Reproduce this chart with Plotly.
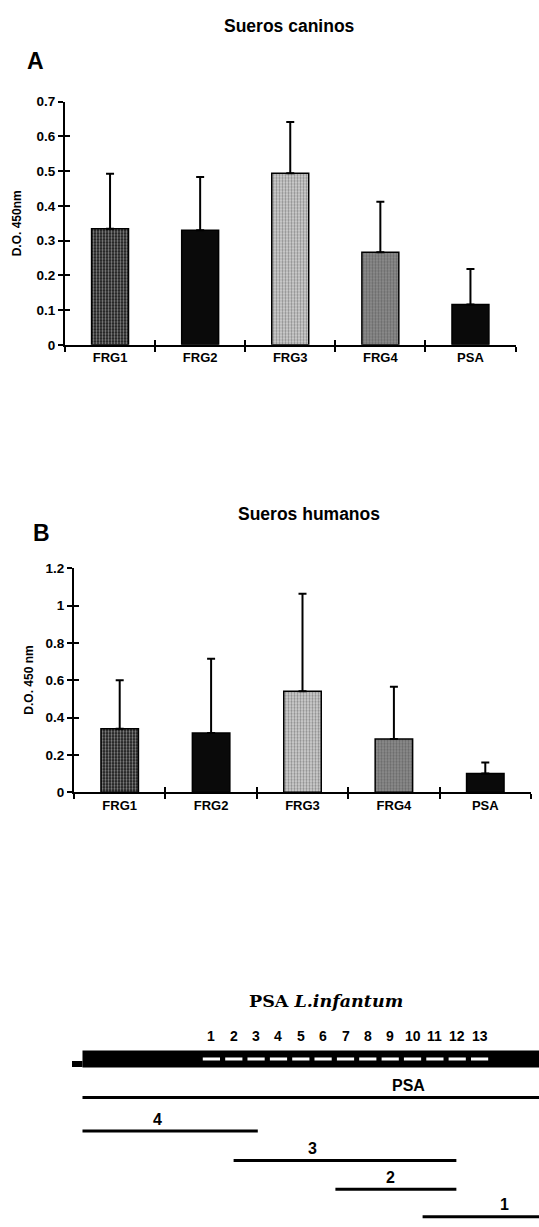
import plotly.graph_objects as go

# ---------------- data ----------------
categories = ["FRG1", "FRG2", "FRG3", "FRG4", "PSA"]
canine_mean = [0.334, 0.330, 0.494, 0.266, 0.116]
canine_err = [0.158, 0.153, 0.147, 0.146, 0.102]
human_mean = [0.340, 0.318, 0.542, 0.286, 0.100]
human_err = [0.260, 0.397, 0.522, 0.279, 0.059]
canine_ticks = [0, 0.1, 0.2, 0.3, 0.4, 0.5, 0.6, 0.7]
human_ticks = [0, 0.2, 0.4, 0.6, 0.8, 1, 1.2]

bar_colors = ["#111111", "#0a0a0a", "#d4d4d4", "#8e8e8e", "#0a0a0a"]
pattern_shapes = [".", "", ".", ".", ""]
pattern_fg = ["#2c2c2c", "#0a0a0a", "#8a8a8a", "#4e4e4e", "#0a0a0a"]
pattern_bg = ["#0c0c0c", "#0a0a0a", "#ececec", "#b4b4b4", "#0a0a0a"]

# schematic of PSA L. infantum (arbitrary length units, gene = 0..100)
gene_start, gene_end = 0, 100
signal_start, signal_end = -2.3, 0
repeat_start = [26.35, 31.26, 36.14, 41.05, 45.94, 50.82, 55.73, 60.61, 65.52, 70.41, 75.31, 80.20, 85.10]
repeat_end = [30.12, 35.03, 39.91, 44.82, 49.71, 54.59, 59.50, 64.38, 69.29, 74.18, 79.08, 83.97, 88.87]
repeat_labels = ["1", "2", "3", "4", "5", "6", "7", "8", "9", "10", "11", "12", "13"]
frag_names = ["PSA", "4", "3", "2", "1"]
frag_start = [0, 0, 33.1, 55.4, 74.5]
frag_end = [100, 38.4, 81.9, 81.9, 100]
frag_row = [1.3, 2.43, 3.43, 4.4, 5.32]
frag_label_x = [71.5, 16.5, 50.4, 67.4, 92.5]

W, H = 539, 1227
FONT = "Liberation Sans"

fig = go.Figure()

def bars(mean, err, xa, ya):
    return go.Bar(
        x=categories, y=mean, width=0.41, xaxis=xa, yaxis=ya,
        marker=dict(color=bar_colors, line=dict(color="black", width=1.5),
                    pattern=dict(shape=pattern_shapes, fgcolor=pattern_fg,
                                 bgcolor=pattern_bg, size=3, solidity=0.45)),
        error_y=dict(type="data", array=err, arrayminus=[0] * len(err),
                     symmetric=False, color="black", thickness=2, width=4),
        showlegend=False, hoverinfo="skip")

fig.add_trace(bars(canine_mean, canine_err, "x", "y"))
fig.add_trace(bars(human_mean, human_err, "x2", "y2"))
# invisible copies so the overlay axes (inner half of the crossing ticks) get drawn
idx = list(range(len(categories)))
fig.add_trace(go.Scatter(x=idx, y=canine_mean, mode="markers", marker=dict(opacity=0),
                         xaxis="x4", yaxis="y4", showlegend=False, hoverinfo="skip"))
fig.add_trace(go.Scatter(x=idx, y=human_mean, mode="markers", marker=dict(opacity=0),
                         xaxis="x5", yaxis="y5", showlegend=False, hoverinfo="skip"))

# schematic
fig.add_trace(go.Scatter(x=[signal_start, signal_end], y=[0.17, 0.17], mode="lines",
                         line=dict(color="black", width=6), xaxis="x3", yaxis="y3",
                         showlegend=False, hoverinfo="skip"))
fig.add_trace(go.Scatter(x=[gene_start, gene_end], y=[0, 0], mode="lines",
                         line=dict(color="black", width=17), xaxis="x3", yaxis="y3",
                         showlegend=False, hoverinfo="skip"))
rx, ry = [], []
for s, e in zip(repeat_start, repeat_end):
    rx += [s, e, None]
    ry += [0, 0, None]
fig.add_trace(go.Scatter(x=rx, y=ry, mode="lines", line=dict(color="white", width=3),
                         xaxis="x3", yaxis="y3", showlegend=False, hoverinfo="skip"))
fx, fy = [], []
for s, e, r in zip(frag_start, frag_end, frag_row):
    fx += [s, e, None]
    fy += [r, r, None]
fig.add_trace(go.Scatter(x=fx, y=fy, mode="lines", line=dict(color="black", width=3),
                         xaxis="x3", yaxis="y3", showlegend=False, hoverinfo="skip"))

ann = []
for s, e, lab in zip(repeat_start, repeat_end, repeat_labels):
    ann.append(dict(x=(s + e) / 2, y=-0.78, xref="x3", yref="y3", text=lab, showarrow=False,
                    xanchor="center", yanchor="middle",
                    font=dict(family=FONT, size=14, color="black", weight="bold")))
for name, lx, r in zip(frag_names, frag_label_x, frag_row):
    ann.append(dict(x=lx, y=r - 0.4, xref="x3", yref="y3", text=name, showarrow=False,
                    xanchor="center", yanchor="middle",
                    font=dict(family=FONT, size=16, color="black", weight="bold")))

def px(xp, yp):
    return xp / W, 1 - yp / H

for text, xp, yp, size, fam in [
    ("Sueros caninos", 289, 19, 17.5, FONT),
    ("A", 35, 55, 23, FONT),
    ("Sueros humanos", 309, 513, 17.5, FONT),
    ("B", 41, 533, 23, FONT),
]:
    x, y = px(xp, yp)
    ann.append(dict(x=x, y=y, xref="paper", yref="paper", text=text, showarrow=False,
                    xanchor="center", yanchor="middle",
                    font=dict(family=fam, size=size, color="black", weight="bold")))

x, y = px(17, 219)
ann.append(dict(x=x, y=y, xref="paper", yref="paper", text="D.O. 450nm", textangle=-90,
                xanchor="center", yanchor="middle",
                showarrow=False, font=dict(family=FONT, size=12, color="black", weight="bold")))
x, y = px(29, 682)
ann.append(dict(x=x, y=y, xref="paper", yref="paper", text="D.O. 450 nm", textangle=-90,
                xanchor="center", yanchor="middle",
                showarrow=False, font=dict(family=FONT, size=12, color="black", weight="bold")))
x, y = px(326, 1006)
ann.append(dict(x=x, y=y, xref="paper", yref="paper", text="PSA <i>L.infantum</i>",
                xanchor="center", yanchor="middle",
                showarrow=False, font=dict(family="DejaVu Serif", size=17.5, color="black",
                                           weight="bold")))

bar_x = dict(type="category", range=[-0.5, 4.5], tickson="boundaries", ticks="outside",
             ticklen=5, tickwidth=1.5, tickcolor="black", showline=True, linecolor="black",
             linewidth=2, showgrid=False, zeroline=False,
             tickfont=dict(family=FONT, size=13, color="black", weight="bold"))
bar_y = dict(ticks="outside", ticklen=5, tickwidth=1.5, tickcolor="black", showline=True,
             linecolor="black", linewidth=2, showgrid=False, zeroline=False,
             tickfont=dict(family=FONT, size=13.5, color="black", weight="bold"))
inner = dict(ticks="inside", ticklen=5, tickwidth=1.5, tickcolor="black", showline=False,
             showgrid=False, zeroline=False, showticklabels=False)

A_x = [65 / W, 515.5 / W]
A_y = [1 - 342 / H, 1 - 95.7 / H]
B_x = [74 / W, 531 / W]
B_y = [1 - 795 / H, 1 - 568.3 / H]

fig.update_layout(
    width=W, height=H, margin=dict(l=0, r=0, t=0, b=0),
    paper_bgcolor="white", plot_bgcolor="rgba(0,0,0,0)", bargap=0.5,
    xaxis=dict(domain=A_x, anchor="y", **bar_x),
    yaxis=dict(domain=A_y, anchor="x", range=[0, 0.7], tickvals=canine_ticks, **bar_y),
    xaxis2=dict(domain=B_x, anchor="y2", **bar_x),
    yaxis2=dict(domain=B_y, anchor="x2", range=[0, 1.2], tickvals=human_ticks, **bar_y),
    xaxis4=dict(overlaying="x", anchor="y4", range=[-0.5, 4.5],
                tickvals=[0.5, 1.5, 2.5, 3.5, 4.5], **inner),
    yaxis4=dict(overlaying="y", anchor="x4", range=[0, 0.7], tickvals=canine_ticks, **inner),
    xaxis5=dict(overlaying="x2", anchor="y5", range=[-0.5, 4.5],
                tickvals=[0.5, 1.5, 2.5, 3.5, 4.5], **inner),
    yaxis5=dict(overlaying="y2", anchor="x5", range=[0, 1.2], tickvals=human_ticks, **inner),
    xaxis3=dict(domain=[0, 1], anchor="y3", range=[-18.07, 100], visible=False),
    yaxis3=dict(domain=[0, 1 - 975 / H], anchor="x3", range=[5.4, -3], visible=False),
    annotations=ann,
)

fig.write_html("out.html", config={"displayModeBar": False},
               post_script="document.body.style.margin='0';document.body.style.overflow='hidden';")
